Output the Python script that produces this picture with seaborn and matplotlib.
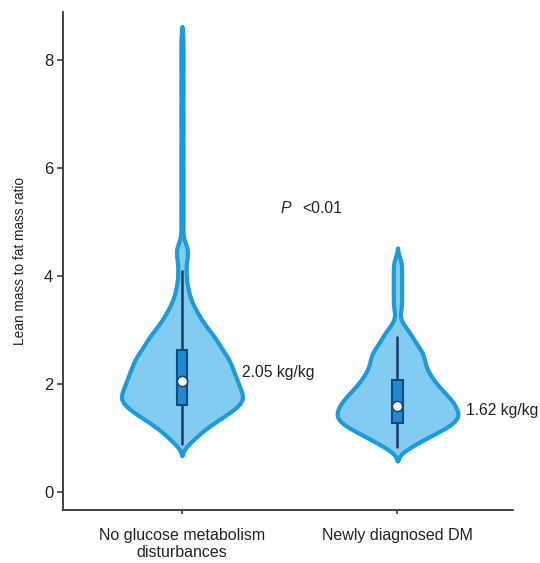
import numpy as np
import pandas as pd
import matplotlib
matplotlib.use('Agg')
import matplotlib.pyplot as plt
import seaborn as sns

# --- DATA (lean mass / fat mass ratio, kg/kg) ---
GROUPS = ['No glucose metabolism\ndisturbances', 'Newly diagnosed DM']

NOGMD_LEVELS = [0.9, 1.0, 1.1, 1.2, 1.3, 1.4, 1.5, 1.6, 1.7, 1.8, 1.9, 2.0,
                2.1, 2.2, 2.3, 2.4, 2.5, 2.6, 2.7, 2.8, 2.9, 3.0, 3.1, 3.2,
                3.3, 3.4, 3.5, 3.6, 3.7, 3.8, 3.9, 4.0, 4.1, 4.2, 4.3, 4.4,
                4.5, 4.6, 4.8, 5.0, 5.2, 5.4, 5.6, 5.8, 6.0, 6.2, 6.4, 6.6,
                6.8, 7.0, 7.2, 7.4, 7.6, 7.8, 8.0, 8.2, 8.4]
NOGMD_COUNTS = [4, 6, 9, 12, 16, 20, 24, 27, 30, 29, 28, 27,
                26, 25, 24, 23, 22, 20, 18, 17, 15, 13, 11, 9,
                8, 6, 5, 4, 3, 3, 2, 2, 2, 2, 2, 3,
                3, 2, 1, 1, 1, 1, 1, 1, 1, 1, 1, 1,
                1, 1, 1, 1, 1, 1, 1, 1, 1]

DM_LEVELS = [0.8, 0.9, 1.0, 1.1, 1.2, 1.3, 1.4, 1.5, 1.6, 1.7, 1.8, 1.9,
             2.0, 2.1, 2.2, 2.3, 2.4, 2.5, 2.6, 2.7, 2.8, 2.9, 3.0, 3.1,
             3.2, 3.3, 3.4, 3.5, 3.6, 3.7, 3.8, 3.9, 4.0, 4.1, 4.2, 4.3]
DM_COUNTS = [5, 9, 14, 19, 24, 28, 30, 29, 28, 26, 24, 21,
             19, 17, 15, 14, 13, 13, 12, 10, 8, 7, 5, 3,
             1, 1, 2, 2, 2, 2, 2, 2, 2, 2, 2, 2]

# box summaries as printed in the figure
Q1 = [1.61, 1.28]
MEDIAN = [2.05, 1.60]
Q3 = [2.63, 2.07]
WHISK_LO = [0.90, 0.84]
WHISK_HI = [4.10, 2.87]

MEDIAN_LABELS = ['2.05 kg/kg', '1.62 kg/kg']

# --- STYLE ---
VIOLIN_FILL = '#82ccf1'
VIOLIN_EDGE = '#1c9bdb'
BOX_FILL = '#1f8ad1'
BOX_EDGE = '#0f4a85'
WHISK_COLOR = '#163a62'
TEXT_COLOR = '#222222'
BANDWIDTH = [0.1, 0.1]   # kde bandwidth in kg/kg for each group

sns.set_style('ticks')
plt.rcParams['font.family'] = ['Liberation Sans', 'DejaVu Sans']

df = pd.concat([
    pd.DataFrame({'group': GROUPS[0], 'ratio': np.repeat(NOGMD_LEVELS, NOGMD_COUNTS)}),
    pd.DataFrame({'group': GROUPS[1], 'ratio': np.repeat(DM_LEVELS, DM_COUNTS)}),
], ignore_index=True)

fig = plt.figure(figsize=(5.4, 5.63), dpi=100)
ax = fig.add_axes([63 / 540, 53 / 563, 450 / 540, 498 / 563])

# one violin per call so each group gets its own bandwidth
for grp, bw in zip(GROUPS, BANDWIDTH):
    sub = df[df['group'] == grp]
    sns.violinplot(data=sub, x='group', y='ratio', order=GROUPS, inner=None,
                   cut=2.2, bw_method=bw / sub['ratio'].std(), density_norm='width',
                   width=0.56, color=VIOLIN_FILL, linecolor=VIOLIN_EDGE,
                   linewidth=3, saturation=1, ax=ax)

stats = [dict(q1=a, med=m, q3=b, whislo=lo, whishi=hi, label=g)
         for a, m, b, lo, hi, g in zip(Q1, MEDIAN, Q3, WHISK_LO, WHISK_HI, GROUPS)]
ax.bxp(stats, positions=range(len(GROUPS)), widths=0.05, patch_artist=True,
       showfliers=False, showcaps=False, manage_ticks=False,
       boxprops=dict(facecolor=BOX_FILL, edgecolor=BOX_EDGE, linewidth=1.5, zorder=4),
       whiskerprops=dict(color=WHISK_COLOR, linewidth=1.8, zorder=3),
       medianprops=dict(linewidth=0))
ax.scatter(range(len(GROUPS)), MEDIAN, s=55, color='white',
           edgecolor=BOX_EDGE, linewidth=1.2, zorder=6)

ax.text(0.28, 2.22, MEDIAN_LABELS[0], fontsize=11.3, va='center', color=TEXT_COLOR)
ax.text(1.32, 1.52, MEDIAN_LABELS[1], fontsize=11.3, va='center', color=TEXT_COLOR)
ax.text(0.455, 5.26, 'P', fontsize=11.3, style='italic', va='center', color=TEXT_COLOR)
ax.text(0.557, 5.26, '<0.01', fontsize=11.3, va='center', color=TEXT_COLOR)

ax.set_xlim(-0.552, 1.536)
ax.set_ylim(-0.33, 8.89)
ax.set_yticks([0, 2, 4, 6, 8])
ax.set_xlabel('')
ax.set_ylabel('Lean mass to fat mass ratio', fontsize=9.8, labelpad=12, color=TEXT_COLOR)

sns.despine(ax=ax)
for side in ['left', 'bottom']:
    ax.spines[side].set_linewidth(1.3)
    ax.spines[side].set_color('#333333')
ax.tick_params(axis='y', labelsize=12, length=4, width=1.1, color='#333333',
               labelcolor=TEXT_COLOR, pad=3)
ax.tick_params(axis='x', labelsize=11.5, length=3, width=1.1, color='#333333',
               labelcolor=TEXT_COLOR, pad=10)

fig.savefig('out.png', dpi=100)
